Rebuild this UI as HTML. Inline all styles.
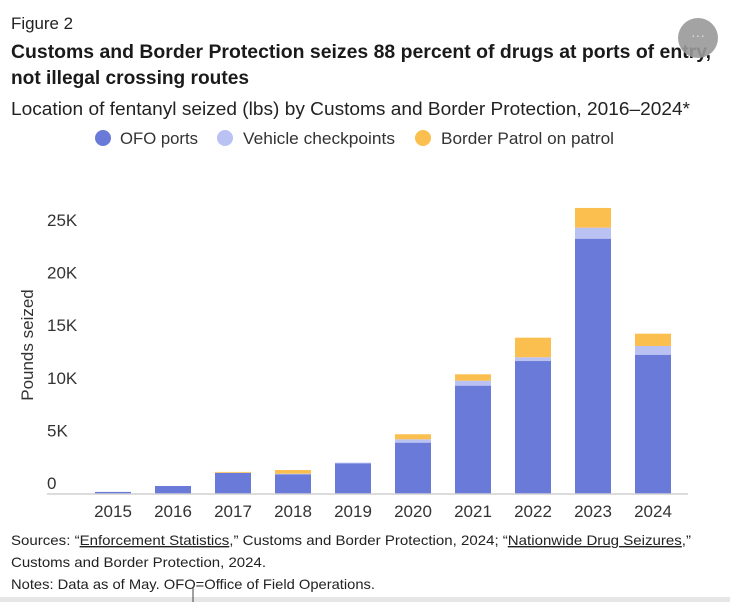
<!DOCTYPE html>
<html><head><meta charset="utf-8"><style>
html,body{margin:0;padding:0;background:#fff;width:730px;height:602px;overflow:hidden}
svg{display:block;font-family:"Liberation Sans Narrow","Liberation Sans",sans-serif}
</style></head><body>
<svg id="chart" width="730" height="602" viewBox="0 0 730 602">
<text x="11" y="29" font-size="17" fill="#222" textLength="62" lengthAdjust="spacingAndGlyphs">Figure 2</text>
<text x="11" y="58" font-size="19" font-weight="bold" fill="#1a1a1a" textLength="700" lengthAdjust="spacingAndGlyphs">Customs and Border Protection seizes 88 percent of drugs at ports of entry,</text>
<text x="11" y="84" font-size="19" font-weight="bold" fill="#1a1a1a" textLength="238" lengthAdjust="spacingAndGlyphs">not illegal crossing routes</text>
<text x="11" y="115" font-size="18" fill="#222" textLength="679" lengthAdjust="spacingAndGlyphs">Location of fentanyl seized (lbs) by Customs and Border Protection, 2016–2024*</text>
<g>
<circle cx="103" cy="138" r="8" fill="#6a7ad9"/>
<text x="120" y="144" font-size="17" fill="#333" textLength="78" lengthAdjust="spacingAndGlyphs">OFO ports</text>
<circle cx="225" cy="138" r="8" fill="#b9c2f3"/>
<text x="243" y="144" font-size="17" fill="#333" textLength="152" lengthAdjust="spacingAndGlyphs">Vehicle checkpoints</text>
<circle cx="423" cy="138" r="8" fill="#fbbf4f"/>
<text x="441" y="144" font-size="17" fill="#333" textLength="173" lengthAdjust="spacingAndGlyphs">Border Patrol on patrol</text>
</g>
<circle cx="698" cy="38" r="20" fill="#999" opacity="0.9"/>
<text x="698" y="40" font-size="14" fill="#ddd" text-anchor="middle">···</text>
<text transform="translate(33,345) rotate(-90)" font-size="17" fill="#333" text-anchor="middle">Pounds seized</text>
<g id="yticks"></g><g id="bars"></g><g id="xticks"></g>
<line x1="47" y1="494" x2="688" y2="494" stroke="#d0d0d0" stroke-width="1.5"/>
<g font-size="14" fill="#222">
<text x="11" y="545" textLength="680" lengthAdjust="spacingAndGlyphs">Sources: “<tspan text-decoration="underline">Enforcement Statistics</tspan>,” Customs and Border Protection, 2024; “<tspan text-decoration="underline">Nationwide Drug Seizures</tspan>,”</text>
<text x="11" y="567" textLength="255" lengthAdjust="spacingAndGlyphs">Customs and Border Protection, 2024.</text>
<text x="11" y="589" textLength="364" lengthAdjust="spacingAndGlyphs">Notes: Data as of May. OFO=Office of Field Operations.</text>
</g>
<rect x="0" y="597" width="730" height="5" fill="#e6e6e6"/>
<line x1="193" y1="588" x2="193" y2="602" stroke="#444" stroke-width="1"/>
</svg>
<script>
const years=[2015,2016,2017,2018,2019,2020,2021,2022,2023,2024];
const ofo=[200,760,2000,1870,2900,4880,10300,12640,24270,13240];
const vehicle=[0,0,20,60,80,320,470,360,1050,830];
const patrol=[0,0,80,350,0,480,610,1860,1870,1170];
const yTicks=[0,5000,10000,15000,20000,25000];
const yTickLabels=["0","5K","10K","15K","20K","25K"];
const NS="http://www.w3.org/2000/svg";
const y=v=>494-v*52.6/5000;
const xc=i=>113+i*60;
const bw=36;
function mk(t,a,p){const e=document.createElementNS(NS,t);for(const k in a)e.setAttribute(k,a[k]);p.appendChild(e);return e;}
const yg=document.getElementById('yticks');
yTicks.forEach((v,i)=>{
  const t=mk('text',{x:47,y:y(v)-5,'font-size':17,fill:'#333'},yg);
  t.textContent=yTickLabels[i];
  
  
});
const bg=document.getElementById('bars'),xg=document.getElementById('xticks');
const series=[[ofo,'#6a7ad9','ofo'],[vehicle,'#b9c2f3','vehicle'],[patrol,'#fbbf4f','patrol']];
years.forEach((yr,i)=>{
  let base=0;
  series.forEach(([arr,col,nm])=>{
    const v=arr[i];
    if(v>0){
      const r=mk('rect',{x:xc(i)-bw/2,y:y(base+v),width:bw,height:y(base)-y(base+v),fill:col},bg);
      
      
    }
    base+=v;
  });
  const t=mk('text',{x:xc(i),y:517,'font-size':17,fill:'#333','text-anchor':'middle'},xg);
  t.textContent=yr;
  
  
});
</script>
</body></html>
